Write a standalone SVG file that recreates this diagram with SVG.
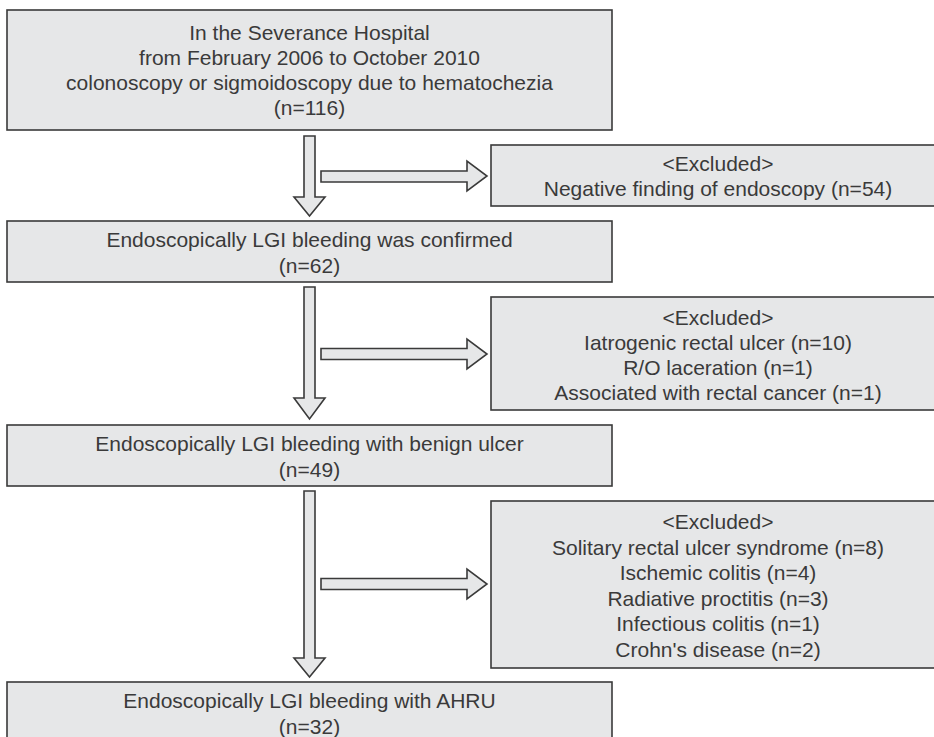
<svg xmlns="http://www.w3.org/2000/svg" width="934" height="737" viewBox="0 0 934 737">
  <style>
    .box { fill: #e6e7e8; stroke: #3a3a3a; stroke-width: 1.6; }
    .arrow { fill: #e6e7e8; stroke: #3a3a3a; stroke-width: 1.6; stroke-linejoin: miter; }
    text { font-family: "Liberation Sans", Arial, sans-serif; font-size: 21px; fill: #3a3a3a; text-anchor: middle; }
  </style>
  <rect x="0" y="0" width="934" height="737" fill="#ffffff"/>

  <g id="connectors">
    <polygon class="arrow" points="304,136 315,136 315,197 325,197 309.5,216 294,197 304,197"/>
    <polygon class="arrow" points="321,171 467,171 467,161 487,176 467,191 467,182 321,182"/>
    <polygon class="arrow" points="304,287 315,287 315,398 325,398 309.5,419 294,398 304,398"/>
    <polygon class="arrow" points="321,348.5 467,348.5 467,339 487,354 467,369 467,359.5 321,359.5"/>
    <polygon class="arrow" points="304,491 315,491 315,658 325,658 309.5,677 294,658 304,658"/>
    <polygon class="arrow" points="321,578.5 467,578.5 467,569 487,584 467,599 467,589.5 321,589.5"/>
  </g>

  <g id="node-start">
    <rect class="box" x="7" y="10" width="605" height="120"/>
    <text x="309.5" y="40">In the Severance Hospital</text>
    <text x="309.5" y="65">from February 2006 to October 2010</text>
    <text x="309.5" y="90">colonoscopy or sigmoidoscopy due to hematochezia</text>
    <text x="309.5" y="115">(n=116)</text>
  </g>

  <g id="node-excluded1">
    <rect class="box" x="491" y="145" width="460" height="61"/>
    <text x="718" y="171">&lt;Excluded&gt;</text>
    <text x="718" y="196">Negative finding of endoscopy (n=54)</text>
  </g>

  <g id="node-confirmed">
    <rect class="box" x="7" y="221" width="605" height="61"/>
    <text x="309.5" y="247">Endoscopically LGI bleeding was confirmed</text>
    <text x="309.5" y="273">(n=62)</text>
  </g>

  <g id="node-excluded2">
    <rect class="box" x="491" y="297" width="460" height="113"/>
    <text x="718" y="325">&lt;Excluded&gt;</text>
    <text x="718" y="350">Iatrogenic rectal ulcer (n=10)</text>
    <text x="718" y="375">R/O laceration (n=1)</text>
    <text x="718" y="400">Associated with rectal cancer (n=1)</text>
  </g>

  <g id="node-benign">
    <rect class="box" x="7" y="425" width="605" height="61"/>
    <text x="309.5" y="451">Endoscopically LGI bleeding with benign ulcer</text>
    <text x="309.5" y="477">(n=49)</text>
  </g>

  <g id="node-excluded3">
    <rect class="box" x="491" y="501" width="460" height="167"/>
    <text x="718" y="529">&lt;Excluded&gt;</text>
    <text x="718" y="555">Solitary rectal ulcer syndrome (n=8)</text>
    <text x="718" y="580">Ischemic colitis (n=4)</text>
    <text x="718" y="606">Radiative proctitis (n=3)</text>
    <text x="718" y="631">Infectious colitis (n=1)</text>
    <text x="718" y="657">Crohn's disease (n=2)</text>
  </g>

  <g id="node-ahru">
    <rect class="box" x="7" y="682" width="605" height="70"/>
    <text x="309.5" y="708">Endoscopically LGI bleeding with AHRU</text>
    <text x="309.5" y="734">(n=32)</text>
  </g>
</svg>
